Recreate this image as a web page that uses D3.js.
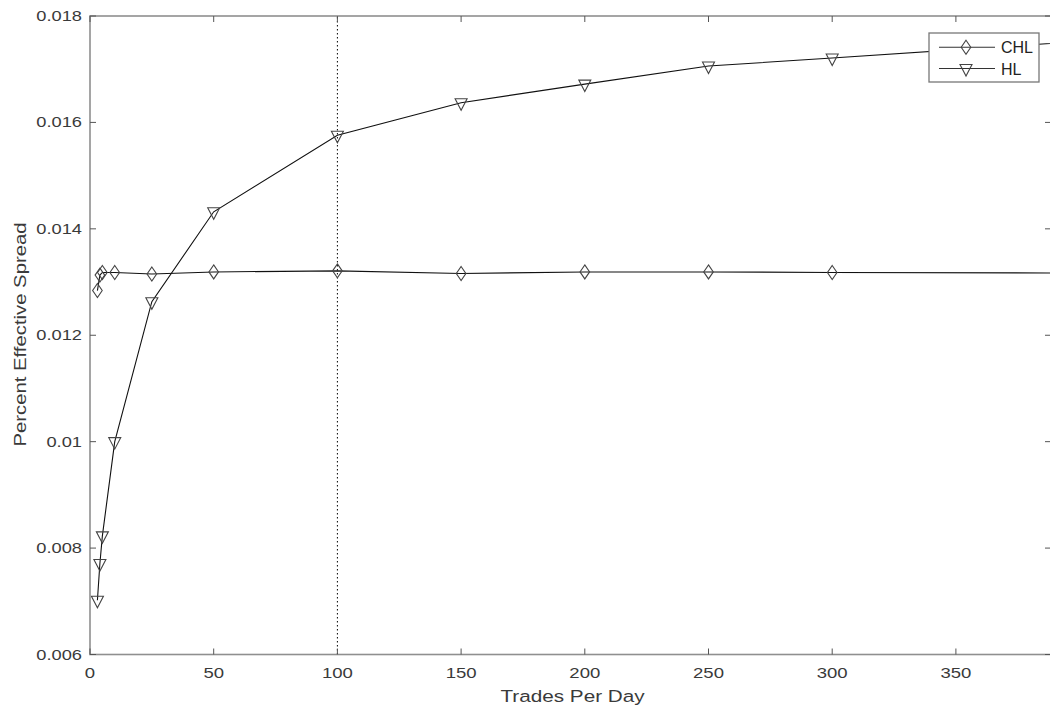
<!DOCTYPE html>
<html><head><meta charset="utf-8">
<script src="https://cdn.jsdelivr.net/npm/d3@7"></script>
<style>
body{margin:0;background:#fff;}
svg{display:block;font-family:"Liberation Sans",Arial,sans-serif;}
</style></head>
<body>
<svg id="c" width="1050" height="713"></svg>
<script>
const xTrades = [3, 4, 5, 10, 25, 50, 100, 150, 200, 250, 300];
const xExtra = 400;
const chl = [0.01284, 0.01313, 0.01318, 0.01318, 0.01315, 0.01319, 0.01321, 0.01316, 0.01319, 0.01319, 0.01318];
const chlExtra = 0.01317;
const hl = [0.00702, 0.00771, 0.00823, 0.0100, 0.01263, 0.01432, 0.01576, 0.01637, 0.01672, 0.01706, 0.01721];
const hlExtra = 0.01752;
const xTicks = [0, 50, 100, 150, 200, 250, 300, 350];
const yTicks = [0.006, 0.008, 0.01, 0.012, 0.014, 0.016, 0.018];
const yTickLabels = ["0.006", "0.008", "0.01", "0.012", "0.014", "0.016", "0.018"];
const seriesNames = ["CHL", "HL"];
const refX = 100;

const svg = d3.select("#c");
const L = 90, R = 1051, T = 16, B = 654.5;
const x = d3.scaleLinear().domain([0, (R - L) / 2.474]).range([L, R]);
const y = d3.scaleLinear().domain([0.006, 0.018]).range([B, T]);

const axisColor = "#8f8f8f", textColor = "#3a3a3a";

// text stretched along its baseline
function stext(parent, tx, ty, str, size, sx, anchor, rot) {
  const t = parent.append("text")
    .attr("transform", `translate(${tx},${ty})${rot ? " rotate(" + rot + ")" : ""} scale(${sx},1)`)
    .attr("text-anchor", anchor).attr("font-size", size).attr("fill", textColor).text(str);
  return t;
}

svg.append("defs").append("clipPath").attr("id","clip")
  .append("rect").attr("x", L).attr("y", T).attr("width", R - L).attr("height", B - T);

// reference dotted line
svg.append("line").attr("x1", x(refX)).attr("x2", x(refX)).attr("y1", y(0.006)).attr("y2", y(0.018))
  .attr("stroke", "#000").attr("stroke-width", 1).attr("stroke-dasharray", "1.5,2.5");

const g = svg.append("g").attr("clip-path", "url(#clip)");
const line = d3.line().x(d => x(d[0])).y(d => y(d[1]));
const chlPts = xTrades.map((v, i) => [v, chl[i]]);
const hlPts = xTrades.map((v, i) => [v, hl[i]]);
g.append("path").attr("d", line(chlPts.concat([[xExtra, chlExtra]]))).attr("fill","none").attr("stroke","#111").attr("stroke-width",1.1);
g.append("path").attr("d", line(hlPts.concat([[xExtra, hlExtra]]))).attr("fill","none").attr("stroke","#111").attr("stroke-width",1.1);

function diamond(sel, cx, cy) {
  sel.append("path").attr("d", `M${cx},${cy-7}L${cx+4.8},${cy}L${cx},${cy+7}L${cx-4.8},${cy}Z`)
    .attr("fill","none").attr("stroke","#444").attr("stroke-width",1.1);
}
function tri(sel, cx, cy) {
  sel.append("path").attr("d", `M${cx-6},${cy-4}L${cx+6},${cy-4}L${cx},${cy+7.5}Z`)
    .attr("fill","none").attr("stroke","#444").attr("stroke-width",1.1);
}
chlPts.forEach(d => diamond(g, x(d[0]), y(d[1])));
hlPts.forEach(d => tri(g, x(d[0]), y(d[1])));

// axes box
const ax = svg.append("g");
ax.append("rect").attr("x", L).attr("y", T).attr("width", R - L).attr("height", B - T)
  .attr("fill","none").attr("stroke", axisColor).attr("stroke-width", 1.6);
const tl = 6;
xTicks.forEach(t => {
  ax.append("line").attr("x1", x(t)).attr("x2", x(t)).attr("y1", B).attr("y2", B - tl).attr("stroke", "#555");
  ax.append("line").attr("x1", x(t)).attr("x2", x(t)).attr("y1", T).attr("y2", T + tl).attr("stroke", "#555");
  stext(ax, x(t), 678, String(t), 14.5, 1.28, "middle");
});
yTicks.forEach((t, i) => {
  ax.append("line").attr("x1", L).attr("x2", L + tl).attr("y1", y(t)).attr("y2", y(t)).attr("stroke", "#555");
  ax.append("line").attr("x1", R).attr("x2", R - tl).attr("y1", y(t)).attr("y2", y(t)).attr("stroke", "#555");
  stext(ax, 82, y(t) + 5, yTickLabels[i], 14.5, 1.26, "end");
});
stext(svg, 572.5, 702, "Trades Per Day", 16.5, 1.255, "middle");
stext(svg, 26, 334.5, "Percent Effective Spread", 16.5, 1.23, "middle", -90);

// legend
const lg = svg.append("g");
lg.append("rect").attr("x", 929).attr("y", 33).attr("width", 110).attr("height", 49)
  .attr("fill","#fff").attr("stroke", "#777").attr("stroke-width", 1.3);
[47.3, 68.5].forEach((ly, i) => {
  lg.append("line").attr("x1", 939).attr("x2", 995).attr("y1", ly).attr("y2", ly).attr("stroke","#333").attr("stroke-width",1.1);
  if (i === 0) diamond(lg, 966, ly); else tri(lg, 966, ly);
  lg.append("text").attr("x", 1001).attr("y", ly + 6).attr("font-size", 16).attr("fill", "#222").text(seriesNames[i]);
});
</script>
</body></html>
